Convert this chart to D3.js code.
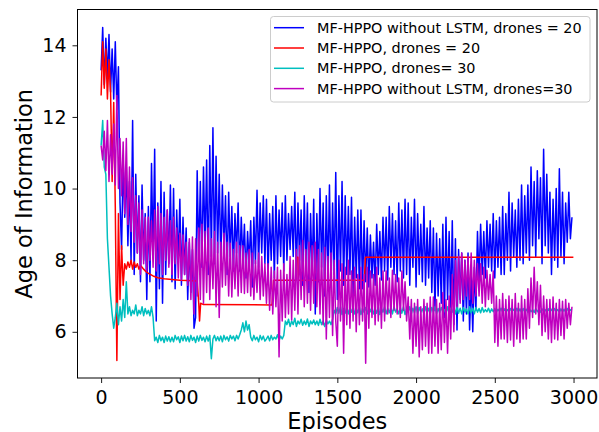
<!DOCTYPE html>
<html>
<head>
<meta charset="utf-8">
<script src="https://cdn.jsdelivr.net/npm/d3@7/dist/d3.min.js"></script>
<style>
body{margin:0;background:#fff;}
text{font-family:"DejaVu Sans",sans-serif;}
</style>
</head>
<body>
<script>
//episodes between two samples (noisy series)
var step = 10;

//without LSTM, drones = 20
var blueVals = [
13.3,14.5,12.9,14.2,13.1,14.3,12.7,13.9,12.5,14.1,12.2,13.4,9.6,8.3,10.8,
9.2,10.6,8.4,10.2,8.0,11.9,7.6,10.4,8.2,9.8,7.4,10.1,8.0,9.3,6.9,
9.5,7.4,10.7,8.1,11.1,6.3,9.6,7.2,10.2,6.8,9.9,7.6,9.4,7.9,10.1,
7.4,10.0,7.2,9.4,7.9,9.7,7.3,9.2,7.6,8.9,6.9,8.5,7.1,8.3,6.1,
6.4,10.5,8.0,10.2,7.8,10.6,8.3,10.8,7.6,11.2,8.1,11.7,7.9,10.9,8.2,
10.4,7.9,10.1,8.3,9.8,7.6,9.9,8.1,9.5,7.7,9.3,8.2,9.6,7.7,9.2,
8.0,9.0,7.5,8.8,7.9,9.1,7.25,9.2,7.9,9.95,7.8,9.6,8.2,9.8,7.9,
9.7,7.6,9.3,8.0,9.5,7.5,9.8,7.9,9.4,8.1,9.6,7.7,9.8,8.0,9.3,
8.3,9.5,8.1,9.9,7.6,9.6,8.0,9.4,7.3,9.8,7.8,9.6,7.1,9.3,7.6,
9.7,6.5,9.3,7.4,10.0,7.8,9.6,7.0,9.8,7.5,10.1,7.3,9.6,7.6,10.45,
6.9,9.8,7.7,10.2,7.3,9.8,7.6,9.5,7.6,9.76,7.0,9.2,7.5,9.4,7.2,
9.4,7.2,9.1,7.4,8.9,7.25,8.7,7.5,8.5,7.3,9.0,7.6,8.8,7.45,9.2,
7.7,9.2,7.45,9.5,7.8,9.3,7.6,9.1,7.4,9.6,7.7,9.4,7.5,9.7,7.6,
9.6,7.3,9.2,7.8,9.7,7.25,9.3,7.6,9.0,7.4,9.5,7.3,8.9,7.5,9.1,
7.1,8.9,6.6,8.75,7.0,8.6,6.8,9.0,6.4,9.2,6.9,8.8,6.5,9.1,6.2,
8.6,6.05,8.3,6.9,8.2,6.3,8.0,6.5,8.2,6.05,7.6,6.0,7.8,6.6,8.8,
7.4,9.0,7.6,8.8,7.5,9.1,7.8,9.0,7.7,9.3,7.5,9.1,7.8,9.2,7.6,
9.5,7.6,9.3,8.0,9.9,7.7,9.6,8.1,9.4,7.8,9.7,8.0,10.1,7.9,9.8,
8.2,10.1,8.0,10.6,8.4,10.2,8.1,10.5,8.6,10.3,7.9,11.1,8.4,10.4,8.2,
9.9,7.6,9.7,8.0,10.0,7.8,10.55,8.1,9.9,7.9,9.6,8.5,9.9,8.6,9.2
];

//MF-HPPO, drones = 20 (mostly flat, so episodes are listed)
var redEp = [0,10,20,30,40,50,60,70,80,90,100,110,120,130,140,150,160,170,180,190,200,210,220,230,240,250,260,270,285,300,330,360,400,450,500,550,610,620,625,632,650,1085,1095,1238,1240,1250,1252,1672,1678,2999];
var redVals = [12.6,14.1,12.8,13.9,12.5,13.6,12.7,10.2,12.4,9.5,5.2,9.3,6.9,8.4,7.3,7.9,7.75,7.95,7.8,8.0,7.75,7.95,7.8,7.9,7.75,7.85,7.8,7.75,7.68,7.63,7.56,7.51,7.48,7.46,7.44,7.43,7.42,6.8,6.3,6.8,6.76,6.75,7.44,7.44,8.08,8.08,7.44,7.44,8.08,8.08];

//MF-HPPO, drones = 30
var cyanVals = [
11.2,11.9,10.6,10.4,8.6,7.8,7.0,6.5,6.1,6.4,6.8,6.2,6.7,6.3,6.9,
6.4,7.4,6.5,6.7,6.45,6.6,6.5,6.75,6.45,6.6,6.5,6.7,6.45,6.65,6.5,
6.6,6.45,6.7,6.4,5.75,5.85,5.7,5.9,5.75,5.85,5.7,5.88,5.74,5.86,5.72,
5.85,5.72,5.9,5.78,5.86,5.7,5.88,5.75,5.9,5.74,5.86,5.72,5.9,5.76,5.85,
5.7,5.88,5.74,5.9,5.76,5.85,5.72,5.88,5.74,5.9,5.25,5.8,5.9,5.75,5.86,
5.75,5.88,5.72,5.9,5.78,5.86,5.74,5.9,5.8,5.88,5.75,5.9,5.8,5.92,6.05,
6.25,6.0,6.3,6.05,6.2,5.85,5.75,5.9,5.78,5.85,5.72,5.9,5.78,5.88,5.74,
5.8,5.88,5.75,5.9,5.78,5.85,5.8,5.92,5.76,5.88,5.8,5.9,6.3,6.2,6.35,
6.15,6.3,6.2,6.38,6.15,6.3,6.22,6.35,6.18,6.3,6.2,6.36,6.15,6.3,6.22,
6.33,6.2,6.3,6.18,6.35,6.2,6.3,6.15,6.33,6.22,6.3,6.2,6.35,6.6,6.5,
6.68,6.52,6.7,6.48,6.65,6.52,6.7,6.5,6.66,6.55,6.7,6.5,6.65,6.53,6.7,
6.48,6.66,6.55,6.68,6.5,6.68,6.56,6.7,6.5,6.64,6.52,6.7,6.48,6.65,6.55,
6.7,6.5,6.66,6.53,6.68,6.5,6.7,6.55,6.64,6.5,6.68,6.52,6.7,6.48,6.65,
6.55,6.7,6.5,6.66,6.53,6.7,6.5,6.68,6.55,6.64,6.5,6.7,6.52,6.66,6.5,
6.68,6.55,6.7,6.5,6.65,6.53,6.68,6.55,6.62,6.5,6.7,6.52,6.66,6.55,6.68,
6.5,6.7,6.52,6.66,6.5,6.68,6.55,6.64,6.5,6.7,6.53,6.66,6.5,6.68,6.55,
6.65,6.53,6.68,6.55,6.62,6.56,6.66,6.54,6.64,6.56,6.65,6.55,6.63,6.57,6.66,
6.55,6.64,6.56,6.62,6.55,6.65,6.57,6.63,6.55,6.66,6.56,6.64,6.54,6.65,6.56,
6.63,6.55,6.64,6.56,6.62,6.54,6.65,6.56,6.63,6.55,6.64,6.57,6.62,6.55,6.64,
6.56,6.63,6.55,6.65,6.57,6.62,6.55,6.64,6.56,6.63,6.55,6.65,6.56,6.62,6.6
];

//without LSTM, drones = 30
var magentaVals = [
11.2,10.8,11.6,10.5,11.9,10.2,11.5,10.4,11.8,10.1,12.6,10.0,11.4,9.8,11.3,
9.3,11.4,9.0,10.6,8.8,10.3,8.5,9.8,8.2,9.6,7.6,9.4,7.9,9.2,7.7,
9.2,8.0,9.1,7.8,9.4,7.7,9.5,7.9,9.3,7.6,9.2,8.0,9.4,7.8,9.1,
7.6,9.2,7.9,8.9,7.5,8.75,7.45,8.7,7.6,8.5,7.3,8.6,6.9,8.65,6.5,
8.6,7.0,8.9,6.9,9.0,6.8,8.8,7.1,8.9,6.9,8.6,7.2,8.8,6.7,8.5,
6.4,8.5,7.25,8.75,7.3,8.5,7.0,8.47,6.97,8.3,7.2,8.5,7.0,8.4,7.1,
8.4,7.07,8.2,7.1,8.3,7.0,8.2,6.9,8.0,7.1,8.2,6.9,8.1,7.0,7.9,
6.8,7.9,6.6,7.8,6.5,7.7,6.7,7.8,5.3,7.72,6.3,7.9,6.4,7.6,6.5,
8.1,6.33,8.0,6.6,8.3,6.5,8.4,6.9,8.55,6.7,8.3,6.8,8.5,6.6,8.4,
6.8,8.5,6.7,8.3,6.5,8.2,6.2,8.36,5.8,8.1,6.4,8.2,5.9,8.0,6.3,
5.6,8.0,6.3,7.9,5.4,7.8,6.2,8.0,6.1,7.7,6.3,7.8,6.0,7.6,6.2,
7.8,6.3,7.6,5.12,7.8,6.1,7.7,6.4,7.6,6.2,7.8,6.3,7.5,6.1,7.7,
6.3,7.7,6.5,7.5,6.4,7.72,6.6,7.6,6.5,7.5,6.4,7.7,6.6,7.4,6.3,
6.97,5.8,6.9,5.4,6.8,5.6,6.9,5.3,6.7,5.5,6.9,5.6,6.8,5.4,6.97,
5.4,6.97,5.6,6.9,5.4,6.8,5.5,7.1,5.7,6.9,5.4,7.0,5.8,7.6,6.0,
8.0,6.7,8.1,6.8,8.2,6.9,8.0,7.0,8.1,6.9,8.2,6.8,8.0,7.0,7.9,
7.0,7.9,6.8,7.8,6.7,7.72,6.9,7.6,6.8,7.7,5.7,7.0,5.6,6.9,5.8,
7.07,5.8,6.9,5.7,7.0,5.77,6.9,5.6,7.07,5.8,6.8,5.7,7.0,5.8,6.9,
5.8,7.2,6.1,7.5,6.4,7.8,6.5,7.4,6.2,7.3,5.9,7.0,6.0,6.9,5.8,
6.9,5.7,6.97,5.8,6.8,5.77,6.9,5.9,6.85,5.8,6.9,6.1,6.8,6.2,6.7
];

var seriesNames = ["MF-HPPO without LSTM, drones = 20", "MF-HPPO, drones = 20", "MF-HPPO, drones= 30", "MF-HPPO without LSTM, drones=30"];
var seriesColors = ["#0000ff", "#ff0000", "#00bfbf", "#bf00bf"];
var xTicks = [0, 500, 1000, 1500, 2000, 2500, 3000];
var yTicks = [6, 8, 10, 12, 14];

//svg sizes
var width = 599, height = 432;
var margin = {top: 9.5, bottom: 54, left: 77.5, right: 2};

var svg = d3.select("body").append("svg")
    .attr("width", width)
    .attr("height", height);

//scales
var x = d3.scaleLinear().domain([-150, 3149]).range([margin.left, width - margin.right]);
var y = d3.scaleLinear().domain([4.71, 15.0]).range([height - margin.bottom, margin.top]);

//[episode, value] pairs for every series
var toPoints = function(vals, eps){
    return vals.map(function(v, i){ return [eps ? eps[i] : i * step, v]; });
};
var allSeries = [toPoints(blueVals), toPoints(redVals, redEp), toPoints(cyanVals), toPoints(magentaVals)];

var line = d3.line()
    .x(function(d){ return x(d[0]); })
    .y(function(d){ return y(d[1]); });

//plot order as in the legend
allSeries.forEach(function(pts, k){
    svg.append("path")
        .datum(pts)
        .attr("d", line)
        .attr("fill", "none")
        .attr("stroke", seriesColors[k])
        .attr("stroke-width", 1.5)
        .attr("stroke-linejoin", "round");
});

//axes
var xAxis = d3.axisBottom(x).tickValues(xTicks).tickFormat(d3.format("d")).tickSize(5).tickPadding(8);
var yAxis = d3.axisLeft(y).tickValues(yTicks).tickFormat(d3.format("d")).tickSize(5).tickPadding(6);

var gx = svg.append("g")
    .attr("transform", "translate(0," + (height - margin.bottom) + ")")
    .call(xAxis);
var gy = svg.append("g")
    .attr("transform", "translate(" + margin.left + ",0)")
    .call(yAxis);

[gx, gy].forEach(function(g){
    g.select(".domain").remove();
    g.selectAll("line").attr("stroke", "#000").attr("stroke-width", 0.9);
    g.selectAll("text").attr("fill", "#000").style("font-size", "19px").style("font-family", "DejaVu Sans");
});

//frame
svg.append("rect")
    .attr("x", margin.left)
    .attr("y", margin.top)
    .attr("width", width - margin.right - margin.left)
    .attr("height", height - margin.bottom - margin.top)
    .attr("fill", "none")
    .attr("stroke", "#000")
    .attr("stroke-width", 1);

//labels
svg.append("text")
    .attr("x", (margin.left + width - margin.right) / 2)
    .attr("y", 429)
    .attr("text-anchor", "middle")
    .style("font-size", "22.5px")
    .text("Episodes");

svg.append("text")
    .attr("transform", "translate(31.5," + ((margin.top + height - margin.bottom) / 2) + ") rotate(-90)")
    .attr("text-anchor", "middle")
    .style("font-size", "22.5px")
    .text("Age of Information");

//legend
var legend = svg.append("g").attr("class", "legend");
legend.append("rect")
    .attr("x", 270.5)
    .attr("y", 16.5)
    .attr("width", 319.5)
    .attr("height", 85.5)
    .attr("rx", 3)
    .attr("fill", "#fff")
    .attr("fill-opacity", 0.8)
    .attr("stroke", "#cccccc")
    .attr("stroke-width", 1);

var rows = legend.selectAll(".row").data(seriesNames).enter().append("g")
    .attr("class", "row")
    .attr("transform", function(d, i){ return "translate(0," + (27.7 + i * 20.3) + ")"; });
rows.append("line")
    .attr("x1", 274).attr("x2", 304)
    .attr("stroke", function(d, i){ return seriesColors[i]; })
    .attr("stroke-width", 1.5);
rows.append("text")
    .attr("x", 317)
    .attr("dy", "0.36em")
    .style("font-size", "14.4px")
    .text(function(d){ return d; });
</script>
</body>
</html>
